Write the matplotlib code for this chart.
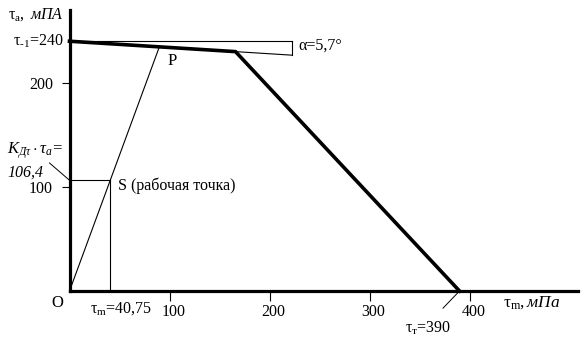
import matplotlib
matplotlib.use("Agg")
import matplotlib.pyplot as plt
import matplotlib.transforms as mtransforms
import numpy as np

plt.rcParams["font.family"] = ["Liberation Serif", "DejaVu Serif"]
plt.rcParams["mathtext.fontset"] = "custom"
plt.rcParams["mathtext.rm"] = "Liberation Serif"
plt.rcParams["mathtext.it"] = "Liberation Serif:italic"
plt.rcParams["mathtext.bf"] = "Liberation Serif:bold"

# --- diagram values (Haigh diagram, shear) ---
TAU_M1 = 240.0          # tau_-1
KNEE = (166.0, 230.0)   # break point of the limit line
TAU_T = 390.0           # tau_t on the abscissa
S_POINT = (40.75, 106.4)
ALPHA_END_X = 222.0     # where the angle bracket is drawn
X_TICKS = [100, 200, 300, 400]
Y_TICKS = [100, 200]

fig = plt.figure(figsize=(5.83, 3.51), dpi=100)
ax = fig.add_axes([69.5 / 583, 60 / 351, 508 / 583, 281 / 351])
ax.set_xlim(0, 508)
ax.set_ylim(0, 270)

for side in ("top", "right"):
    ax.spines[side].set_visible(False)
for side in ("left", "bottom"):
    ax.spines[side].set_linewidth(2.3)
    ax.spines[side].set_color("black")

ax.set_xticks(X_TICKS)
ax.set_xticklabels([str(v) for v in X_TICKS], fontsize=11.5)
ax.set_yticks(Y_TICKS)
ax.set_yticklabels([str(v) for v in Y_TICKS], fontsize=11.5)
ax.tick_params(axis="x", direction="out", length=7.5, width=0.8, pad=2)
ax.tick_params(axis="y", direction="out", length=6, width=0.8, pad=6)
shift = mtransforms.ScaledTranslation(4 / 100, 0, fig.dpi_scale_trans)
for lab in ax.get_xticklabels():
    lab.set_transform(lab.get_transform() + shift)

# limit line tau_-1 -> knee -> tau_t
slope = (KNEE[1] - TAU_M1) / KNEE[0]
ax.plot([0, KNEE[0], TAU_T], [TAU_M1, KNEE[1], 0], color="black", lw=2.6,
        solid_joinstyle="miter", clip_on=False, zorder=3)

# thin construction lines for the angle alpha
ax.plot([0, ALPHA_END_X], [TAU_M1, TAU_M1], color="black", lw=0.8, clip_on=False)
ax.plot([KNEE[0], ALPHA_END_X], [KNEE[1], TAU_M1 + slope * ALPHA_END_X],
        color="black", lw=0.8, clip_on=False)
ax.plot([ALPHA_END_X, ALPHA_END_X], [TAU_M1, TAU_M1 + slope * ALPHA_END_X],
        color="black", lw=0.8, clip_on=False)

# load ray O -> S -> P
k = S_POINT[1] / S_POINT[0]
p_x = TAU_M1 / (k - slope)
p_y = k * p_x
ax.plot([0, p_x], [0, p_y], color="black", lw=0.8, clip_on=False)

# working point projections
ax.plot([0, S_POINT[0]], [S_POINT[1], S_POINT[1]], color="black", lw=0.8)
ax.plot([S_POINT[0], S_POINT[0]], [S_POINT[1], 0], color="black", lw=0.8)

# leaders
ax.plot([-20, 0], [123, S_POINT[1]], color="black", lw=0.7, clip_on=False)
ax.plot([373.5, TAU_T], [-16.5, 0], color="black", lw=0.7, clip_on=False)

# labels
fs = 11.5
ax.text(-34, 266, r"$\mathrm{τ_a},\ \mathit{мПА}$", fontsize=11.5,
        ha="center", va="center", clip_on=False)
ax.text(-6, TAU_M1, r"$\mathrm{τ_{‐1}}$=240", fontsize=fs,
        ha="right", va="center", clip_on=False)
ax.text(229, 235.5, "α=5,7°", fontsize=fs, ha="left", va="center")
ax.text(p_x + 8, p_y - 14, "P", fontsize=12, ha="left", va="center")
ax.text(S_POINT[0] + 7.5, S_POINT[1] - 5, "S (рабочая точка)", fontsize=fs,
        ha="left", va="center")
ax.text(-62.5, 134.5, r"$K_{Дτ}\cdot τ_a$=", fontsize=12, style="italic",
        ha="left", va="center", clip_on=False)
ax.text(-62.5, 114, "106,4", fontsize=fs, style="italic",
        ha="left", va="center", clip_on=False)
ax.text(-12.5, -11.5, "O", fontsize=12, ha="center", va="center", clip_on=False)
ax.text(51.5, -17, r"$\mathrm{τ_m}$=40,75", fontsize=fs,
        ha="center", va="center", clip_on=False)
ax.text(358.5, -35.5, r"$\mathrm{τ_т}$=390", fontsize=fs,
        ha="center", va="center", clip_on=False)
ax.text(433.5, -11.5, r"$\mathrm{τ_m},\mathit{мПа}$", fontsize=12.5,
        ha="left", va="center", clip_on=False)

fig.savefig("out.png", dpi=100, facecolor="white")
